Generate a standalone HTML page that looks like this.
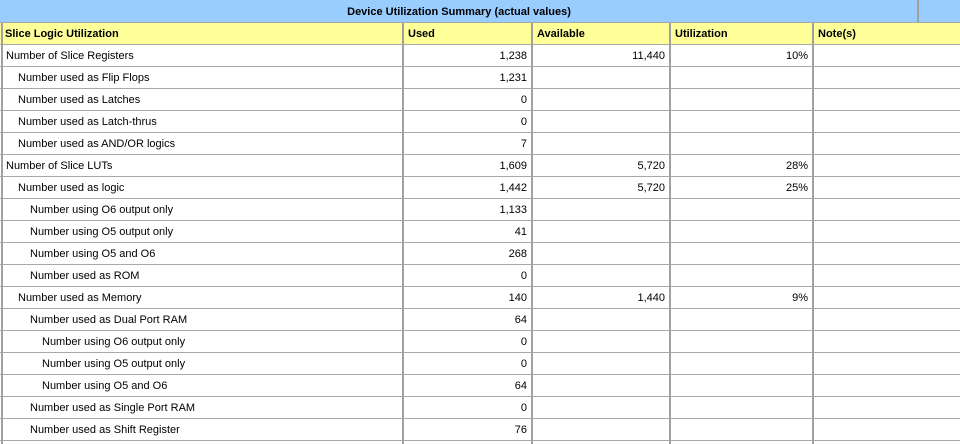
<!DOCTYPE html>
<html><head><meta charset="utf-8"><style>
html,body{margin:0;padding:0;background:#fff;width:960px;height:444px;overflow:hidden;font-family:"Liberation Sans",sans-serif;font-size:11px;color:#000}
#t{position:absolute;left:0;top:0;width:960px;height:444px}
.c{position:absolute;box-sizing:border-box;white-space:nowrap;line-height:22px;overflow:hidden}
.hl{position:absolute;left:0;width:960px;height:1px;background:#a8a8a8}
.vl{position:absolute;width:2px;background:#a0a0a0}
</style></head><body>
<div id="t">
<div class="c" style="left:0;top:0;width:960px;height:22px;background:#99ccff"></div>
<div class="c" style="left:0;top:1px;width:918px;text-align:center;font-weight:bold">Device Utilization Summary (actual values)</div>
<div class="vl" style="left:917px;top:0;height:22px"></div>
<div class="c" style="left:0;top:23px;width:960px;height:21px;background:#ffff99"></div>
</div>
<script>
const headers=["Slice Logic Utilization","Used","Available","Utilization","Note(s)"];
const colX=[0,403,532,670,813,960];
const labels=["Number of Slice Registers","Number used as Flip Flops","Number used as Latches","Number used as Latch-thrus","Number used as AND/OR logics","Number of Slice LUTs","Number used as logic","Number using O6 output only","Number using O5 output only","Number using O5 and O6","Number used as ROM","Number used as Memory","Number used as Dual Port RAM","Number using O6 output only","Number using O5 output only","Number using O5 and O6","Number used as Single Port RAM","Number used as Shift Register"];
const levels=[0,1,1,1,1,0,1,2,2,2,2,1,2,3,3,3,2,2];
const used=["1,238","1,231","0","0","7","1,609","1,442","1,133","41","268","0","140","64","0","0","64","0","76"];
const avail=["11,440","","","","","5,720","5,720","","","","","1,440","","","","","",""];
const util=["10%","","","","","28%","25%","","","","","9%","","","","","",""];
const T=document.getElementById('t');
function div(cls,style,text){const d=document.createElement('div');d.className=cls;d.style.cssText=style;if(text!==undefined)d.textContent=text;T.appendChild(d);return d;}
headers.forEach((h,i)=>{
  const d=div('c',`left:${colX[i]+5}px;top:23px;width:${colX[i+1]-colX[i]-8}px;font-weight:bold`,h);
  
  
});
let hl=div('hl','top:22px');


for(let r=0;r<=labels.length;r++){
  const top=44+r*22;
  const l=div('hl',`top:${top}px`);
  
  
  if(r===labels.length)break;
  const ty=top+1;
  const a=div('c',`left:${6+levels[r]*12}px;top:${ty}px;width:390px`,labels[r]);
  
  
  [used,avail,util].forEach((arr,k)=>{
    const x0=colX[k+1],x1=colX[k+2];
    const v=div('c',`left:${x0}px;top:${ty}px;width:${x1-x0-5}px;text-align:right`,arr[r]);
    
    
  });
}
for(let i=0;i<5;i++){
  const x=i===0?1:colX[i]-1;
  const v=div('vl',`left:${x}px;top:23px;height:421px`);
  
  
}
</script>
</body></html>
